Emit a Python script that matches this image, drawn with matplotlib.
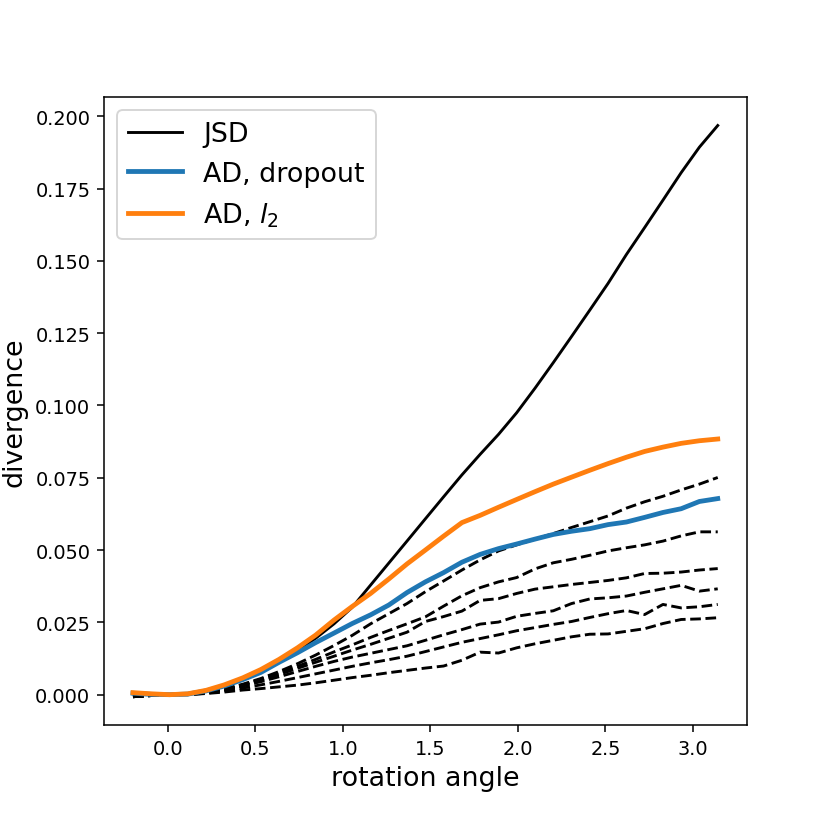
import matplotlib
matplotlib.use("Agg")
import matplotlib.pyplot as plt

# rotation angles (33 steps from -0.2 to pi)
angles = [-0.200, -0.096, 0.009, 0.113, 0.218, 0.322, 0.427, 0.531, 0.635, 0.740,
          0.844, 0.949, 1.053, 1.158, 1.262, 1.366, 1.471, 1.575, 1.680, 1.784,
          1.889, 1.993, 2.098, 2.202, 2.306, 2.411, 2.515, 2.620, 2.724, 2.829,
          2.933, 3.037, 3.142]

jsd = [0.0005, 0.0001, 0.0000, 0.0002, 0.0012, 0.0030, 0.0053, 0.0081, 0.0114, 0.0152,
       0.0195, 0.0245, 0.0302, 0.0379, 0.0455, 0.0531, 0.0608, 0.0684, 0.0760, 0.0831,
       0.0900, 0.0975, 0.1060, 0.1148, 0.1238, 0.1330, 0.1422, 0.1522, 0.1615, 0.1710,
       0.1805, 0.1893, 0.1968]

ad_dropout = [0.0005, 0.0001, 0.0000, 0.0002, 0.0013, 0.0030, 0.0052, 0.0077, 0.0112, 0.0145,
              0.0180, 0.0213, 0.0246, 0.0276, 0.0310, 0.0353, 0.0390, 0.0422, 0.0458, 0.0485,
              0.0505, 0.0521, 0.0538, 0.0554, 0.0565, 0.0574, 0.0588, 0.0597, 0.0613, 0.0630,
              0.0643, 0.0668, 0.0678]

ad_l2 = [0.0007, 0.0003, 0.0000, 0.0003, 0.0015, 0.0034, 0.0058, 0.0087, 0.0122, 0.0162,
         0.0206, 0.0258, 0.0305, 0.0350, 0.0400, 0.0452, 0.0500, 0.0548, 0.0595, 0.0620,
         0.0648, 0.0675, 0.0702, 0.0728, 0.0752, 0.0776, 0.0799, 0.0821, 0.0841, 0.0856,
         0.0869, 0.0878, 0.0884]

# individual runs (dashed)
runs = [
    [-0.0007, -0.0003, 0.0000, 0.0001, 0.0008, 0.0020, 0.0036, 0.0056, 0.0080, 0.0107,
     0.0137, 0.0170, 0.0205, 0.0245, 0.0280, 0.0315, 0.0356, 0.0393, 0.0431, 0.0466,
     0.0497, 0.0518, 0.0538, 0.0557, 0.0578, 0.0598, 0.0618, 0.0645, 0.0667, 0.0686,
     0.0708, 0.0728, 0.0751],
    [-0.0007, -0.0003, 0.0000, 0.0001, 0.0008, 0.0019, 0.0034, 0.0053, 0.0075, 0.0098,
     0.0122, 0.0148, 0.0172, 0.0198, 0.0222, 0.0245, 0.0269, 0.0306, 0.0342, 0.0370,
     0.0390, 0.0405, 0.0435, 0.0456, 0.0468, 0.0482, 0.0497, 0.0508, 0.0518, 0.0531,
     0.0549, 0.0563, 0.0563],
    [-0.0007, -0.0003, 0.0000, 0.0001, 0.0007, 0.0018, 0.0033, 0.0050, 0.0070, 0.0091,
     0.0112, 0.0133, 0.0154, 0.0174, 0.0195, 0.0216, 0.0253, 0.0270, 0.0289, 0.0326,
     0.0332, 0.0350, 0.0365, 0.0373, 0.0381, 0.0388, 0.0395, 0.0404, 0.0419, 0.0420,
     0.0424, 0.0431, 0.0436],
    [-0.0007, -0.0003, 0.0000, 0.0001, 0.0006, 0.0016, 0.0030, 0.0045, 0.0062, 0.0080,
     0.0098, 0.0115, 0.0130, 0.0143, 0.0156, 0.0169, 0.0188, 0.0207, 0.0225, 0.0244,
     0.0251, 0.0271, 0.0281, 0.0290, 0.0315, 0.0331, 0.0335, 0.0341, 0.0354, 0.0366,
     0.0378, 0.0358, 0.0366],
    [-0.0007, -0.0003, 0.0000, 0.0000, 0.0005, 0.0013, 0.0023, 0.0034, 0.0046, 0.0059,
     0.0072, 0.0085, 0.0098, 0.0110, 0.0121, 0.0133, 0.0149, 0.0165, 0.0181, 0.0194,
     0.0207, 0.0221, 0.0232, 0.0243, 0.0253, 0.0267, 0.0280, 0.0291, 0.0277, 0.0312,
     0.0300, 0.0304, 0.0312],
    [-0.0007, -0.0003, 0.0000, 0.0000, 0.0004, 0.0009, 0.0016, 0.0021, 0.0027, 0.0033,
     0.0041, 0.0050, 0.0059, 0.0067, 0.0076, 0.0084, 0.0092, 0.0099, 0.0119, 0.0147,
     0.0144, 0.0162, 0.0176, 0.0188, 0.0200, 0.0209, 0.0210, 0.0219, 0.0228, 0.0246,
     0.0260, 0.0262, 0.0266],
]

fig, ax = plt.subplots(figsize=(6, 6), dpi=138.33)
fig.subplots_adjust(left=0.125, right=0.9, bottom=0.125, top=0.882)

for r in runs:
    ax.plot(angles, r, color="black", ls="--", lw=1.5)
ax.plot(angles, jsd, color="black", lw=1.5, label="JSD")
ax.plot(angles, ad_dropout, color="C0", lw=2.5, label="AD, dropout")
ax.plot(angles, ad_l2, color="C1", lw=2.5, label=r"AD, $l_2$")

ax.set_xlabel("rotation angle", fontsize=14)
ax.set_ylabel("divergence", fontsize=14)
ax.legend(loc="upper left", fontsize=14)

fig.savefig("out.png", dpi=138.33)
